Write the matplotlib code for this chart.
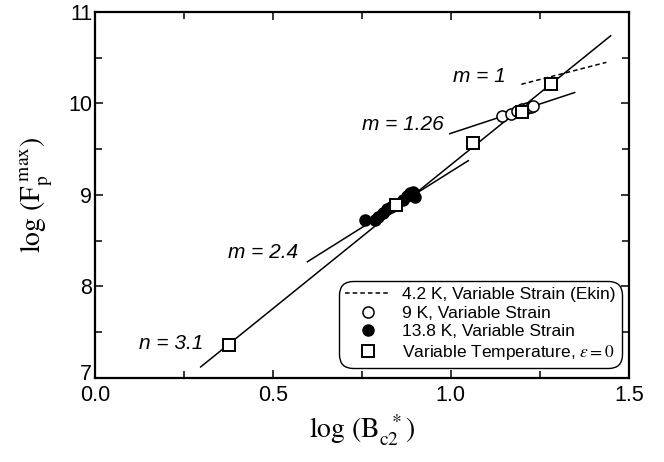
import matplotlib
matplotlib.use("Agg")
import matplotlib.pyplot as plt
import matplotlib.transforms as mtransforms
from matplotlib.lines import Line2D

plt.rcParams['font.family'] = ['Liberation Sans', 'DejaVu Sans']
plt.rcParams['mathtext.fontset'] = 'stix'

## Data ##

# Variable temperature, strain = 0 (open squares)
sq_x = [0.377, 0.847, 1.063, 1.201, 1.281]
sq_y = [7.36, 8.89, 9.565, 9.91, 10.21]

# 9 K, variable strain (open circles)
c9_x = [1.145, 1.168, 1.185, 1.200, 1.213, 1.225, 1.232]
c9_y = [9.86, 9.89, 9.915, 9.935, 9.95, 9.96, 9.97]

# 13.8 K, variable strain (filled circles)
c138_x = [0.760, 0.787, 0.796, 0.810, 0.821, 0.833, 0.866, 0.876, 0.885, 0.894, 0.899]
c138_y = [8.727, 8.727, 8.763, 8.80, 8.844, 8.866, 8.945, 8.99, 9.018, 9.036, 8.975]

# fit lines (end points)
fit_n31_x = [0.297, 1.449]
fit_n31_y = [7.12, 10.74]
fit_m24_x = [0.597, 1.049]
fit_m24_y = [8.27, 9.375]
fit_m126_x = [0.997, 1.348]
fit_m126_y = [9.67, 10.12]
fit_m1_x = [1.198, 1.437]
fit_m1_y = [10.21, 10.45]

# slope labels: (text, x right edge, y)
slope_labels = [
    ("n = 3.1", 0.305, 7.38),
    ("m = 2.4", 0.572, 8.37),
    ("m = 1.26", 0.980, 9.765),
    ("m = 1", 1.155, 10.29),
]

legend_labels = [
    "4.2 K, Variable Strain (Ekin)",
    "9 K, Variable Strain",
    "13.8 K, Variable Strain",
    r"Variable Temperature, $\varepsilon = 0$",
]

## Plot ##

fig = plt.figure(figsize=(6.64, 4.62), dpi=100)
ax = fig.add_axes([0.143, 0.182, 0.804, 0.792])

lw = 1.1
ax.plot(fit_n31_x, fit_n31_y, color='black', lw=lw, zorder=2)
ax.plot(fit_m24_x, fit_m24_y, color='black', lw=lw, zorder=2)
ax.plot(fit_m126_x, fit_m126_y, color='black', lw=lw, zorder=2)
ax.plot(fit_m1_x, fit_m1_y, color='black', lw=lw, ls=(0, (3, 2)), zorder=2)

ax.plot(c138_x, c138_y, 'o', ms=8, mfc='black', mec='black', zorder=3)
ax.plot(c9_x, c9_y, 'o', ms=8, mfc='white', mec='black', mew=1.1, zorder=3)
ax.plot(sq_x, sq_y, 's', ms=9, mfc='white', mec='black', mew=1.4, zorder=4)

for txt, x, y in slope_labels:
    ax.text(x, y, txt, ha='right', va='center', fontsize=15, style='italic')

ax.set_xlim(0, 1.5)
ax.set_ylim(7, 11)
ax.set_xticks([0.0, 0.5, 1.0, 1.5])
ax.set_xticks([0.25, 0.75, 1.25], minor=True)
ax.set_yticks([7, 8, 9, 10, 11])
ax.set_yticks([7.5, 8.5, 9.5, 10.5], minor=True)
ax.set_xticklabels(['0.0', '0.5', '1.0', '1.5'])
ax.tick_params(which='both', direction='in', top=True, right=True, labelsize=15.5, width=1.1)
ax.tick_params(which='major', length=6)
ax.tick_params(axis='x', which='major', pad=5)
ax.tick_params(axis='y', which='major', pad=2)
ax.tick_params(which='minor', length=5)
for s in ax.spines.values():
    s.set_linewidth(1.6)

# lift the "7" a little so it clears the "0.0" below it
lbl7 = ax.get_yticklabels()[0]
lbl7.set_transform(lbl7.get_transform() +
                   mtransforms.ScaledTranslation(0, 4 / 72, fig.dpi_scale_trans))

ax.set_xlabel(r'$\mathrm{log\ (B_{c2}^{\ \ *})}$', fontsize=20, labelpad=5)
ax.set_ylabel(r'$\mathrm{log\ (F_{p}^{\ max})}$', fontsize=20, labelpad=10)

handles = [
    Line2D([], [], color='black', lw=lw, ls=(0, (3, 2))),
    Line2D([], [], ls='none', marker='o', ms=8, mfc='white', mec='black', mew=1.1),
    Line2D([], [], ls='none', marker='o', ms=8, mfc='black', mec='black'),
    Line2D([], [], ls='none', marker='s', ms=9, mfc='white', mec='black', mew=1.4),
]
leg = ax.legend(handles, legend_labels, loc='lower right', bbox_to_anchor=(0.987, 0.027),
                borderaxespad=0, fontsize=12.5, handlelength=2.6, handletextpad=0.7,
                labelspacing=0.2, borderpad=0.35, fancybox=True, framealpha=1)
leg.get_frame().set_edgecolor('black')
leg.get_frame().set_linewidth(1.0)
leg.get_frame().set_boxstyle('round', pad=0, rounding_size=0.8)

fig.savefig('out.png', dpi=100)
